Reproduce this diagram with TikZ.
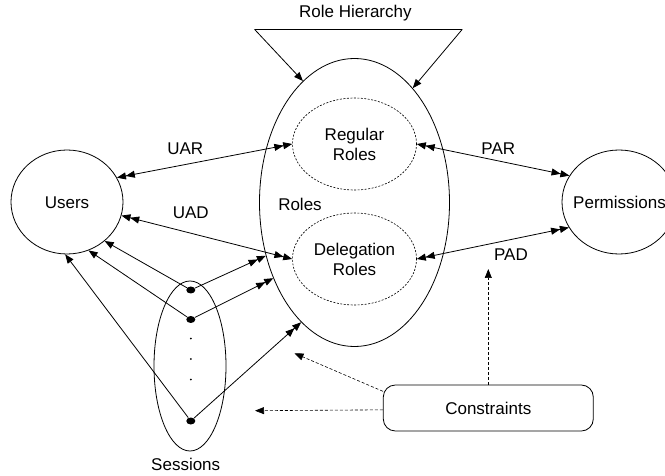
\documentclass[tikz,border=0pt]{standalone}
\usepackage{fontspec}
\setmainfont{Liberation Sans}
\usetikzlibrary{arrows.meta,shapes.geometric}
\begin{document}
\begin{tikzpicture}[x=1pt,y=-1pt,
  font=\fontsize{17}{20}\selectfont,
  line width=0.8pt,
  >={Triangle[length=9pt,width=7pt,sep=0pt]},
  oval/.style={draw, ellipse, inner sep=0pt},
  dashoval/.style={oval, dash pattern=on 2pt off 1.5pt, line width=0.6pt},
  lbl/.style={inner sep=0pt},
  sdot/.style={fill, ellipse, minimum width=9pt, minimum height=7pt, inner sep=0pt},
  minidot/.style={fill, circle, minimum size=2pt, inner sep=0pt},
  dashedarrow/.style={->, dash pattern=on 3pt off 2pt, line width=0.6pt}]

\useasboundingbox (0,0) rectangle (665,476);

% main sets
\node[oval, minimum width=112pt, minimum height=104pt] (users) at (67,202) {};
\node[lbl] (userstext) at (67,202.5) {Users};
\node[oval, minimum width=190pt, minimum height=288pt] (roles) at (354.5,202.5) {};
\node[lbl] (rolestext) at (300,204) {Roles};
\node[dashoval, minimum width=124pt, minimum height=92pt, align=center] (regular) at (354.5,144) {Regular\\Roles};
\node[dashoval, minimum width=124pt, minimum height=92pt, align=center] (deleg) at (354.5,259) {Delegation\\Roles};
\node[oval, minimum width=114pt, minimum height=104pt] (perm) at (619,202) {};
\node[lbl] (permtext) at (619.5,202) {Permissions};

% sessions
\node[oval, minimum width=72pt, minimum height=170pt] (sessions) at (190,366) {};
\node[lbl] (sesstext) at (185.7,464) {Sessions};
\node[sdot] (s1) at (190.8,290) {};
\node[sdot] (s2) at (190.8,319.5) {};
\node[sdot] (s3) at (190.8,421) {};
\node[minidot] (m1) at (190.8,338.5) {};
\node[minidot] (m2) at (190.8,359) {};
\node[minidot] (m3) at (190.8,379.5) {};

% constraints
\node[draw, rounded corners=12pt, minimum width=210pt, minimum height=46pt, inner sep=0pt] (cons) at (488.3,408) {Constraints};

% role hierarchy
\node[lbl] (rhtext) at (355.4,12.7) {Role Hierarchy};
\coordinate (rhL) at (254.5,29.3);
\coordinate (rhR) at (462.3,29.3);
\draw (rhL) -- (rhR);
\draw[->] (rhL) -- (roles.113.9);
\draw[->] (rhR) -- (roles.63.3);

% labels
\node[lbl] (uar) at (185.3,149) {UAR};
\node[lbl] (uad) at (190.8,212.3) {UAD};
\node[lbl] (par) at (498.3,148.3) {PAR};
\node[lbl] (pad) at (511,255) {PAD};

% assignments
\draw[<<->>] (users.26.6) -- (regular.west);
\draw[<<->>] (users.-14.7) -- (deleg.west);
\draw[<<->>] (regular.east) -- (perm.152.5);
\draw[<<->>] (deleg.east) -- (perm.207.4);

% session links
\draw[->>] (s1) -- (roles.211.2);
\draw[->>] (s2) -- (roles.223.5);
\draw[->>] (s3) -- (roles.246.8);
\draw[->] (s1) -- (users.-46.8);
\draw[->] (s2) -- (users.-66);
\draw[->] (s3) -- (users.-92.6);

% constraints
\coordinate (c1) at (488.3,269);
\coordinate (c2) at (294.5,353.3);
\coordinate (c3) at (255,410.7);
\draw[dashedarrow] (cons.north) -- (c1);
\draw[dashedarrow] (cons.171.7) -- (c2);
\draw[dashedarrow] (cons.181.5) -- (c3);
\end{tikzpicture}
\end{document}
